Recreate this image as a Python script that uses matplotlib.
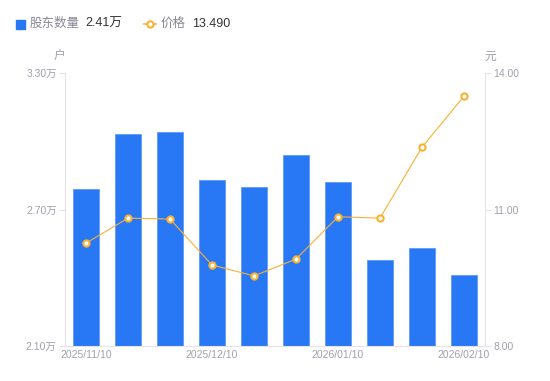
import matplotlib
matplotlib.use("Agg")
import matplotlib.pyplot as plt
from matplotlib.lines import Line2D

plt.rcParams['font.family'] = ['Liberation Sans', 'Noto Sans CJK SC', 'DejaVu Sans']

dates = ["2025/11/10", "2025/11/20", "2025/11/30", "2025/12/10", "2025/12/20",
         "2025/12/31", "2026/01/10", "2026/01/20", "2026/01/31", "2026/02/10"]
holders = [2.79, 3.03, 3.04, 2.83, 2.80, 2.94, 2.82, 2.48, 2.53, 2.41]  # 万户
price = [10.26, 10.81, 10.79, 9.78, 9.54, 9.91, 10.84, 10.81, 12.37, 13.49]
left_ticks = [2.10, 2.70, 3.30]
right_ticks = [8.00, 11.00, 14.00]
shown_dates = ["2025/11/10", "2025/12/10", "2026/01/10", "2026/02/10"]

BLUE = "#2878f5"
ORANGE = "#f8b133"
GREY = "#a0a0ad"
AXIS = "#e3e3e8"

fig = plt.figure(figsize=(5.5, 3.81), dpi=100)
ax = fig.add_axes([65/550, 35/381, 420/550, 273/381])
x = list(range(len(dates)))
ax.bar(x, holders, width=0.6, color=BLUE, edgecolor="#5b9bf7", linewidth=0.6, zorder=2)
ax.set_xlim(-0.5, len(dates) - 0.5)
ax.set_ylim(left_ticks[0], left_ticks[-1])
ax.set_yticks(left_ticks)
ax.set_yticklabels([f"{v:.2f}万" for v in left_ticks])

tick_pos = [dates.index(d) for d in shown_dates]
ax.set_xticks(tick_pos)
ax.set_xticklabels(shown_dates)

ax2 = ax.twinx()
ax2.plot(x, price, color=ORANGE, linewidth=0.8, marker='o', markersize=4.5,
         markerfacecolor='white', markeredgecolor=ORANGE, markeredgewidth=1.5, zorder=3)
ax2.set_ylim(right_ticks[0], right_ticks[-1])
ax2.set_yticks(right_ticks)
ax2.set_yticklabels([f"{v:.2f}" for v in right_ticks])

for a in (ax, ax2):
    for s in a.spines.values():
        s.set_visible(False)
    a.tick_params(colors=GREY, labelsize=7.5, length=4, width=0.8, color=AXIS, pad=2)
ax.spines['left'].set_visible(True)
ax.spines['left'].set_color(AXIS)
ax.spines['bottom'].set_visible(True)
ax.spines['bottom'].set_color(AXIS)
ax2.spines['right'].set_visible(True)
ax2.spines['right'].set_color(AXIS)
ax.tick_params(axis='x', length=0, pad=3)

fig.text(60/550, 1 - 57/381, "户", color=GREY, fontsize=8.5, ha='center', va='center')
fig.text(490/550, 1 - 57/381, "元", color=GREY, fontsize=8.5, ha='center', va='center')

# Legend
ly = 1 - 24/381
fig.patches.append(plt.Rectangle((16/550, ly - 4.5/381), 9/550, 9/381, transform=fig.transFigure,
                                 color=BLUE, figure=fig))
fig.text(30/550, ly, "股东数量", color="#888894", fontsize=9, va='center')
fig.text(85/550, ly, f"{holders[-1]:.2f}万", color="#333333", fontsize=9, va='center')
fig.lines.append(Line2D([144/550, 156/550], [ly, ly], transform=fig.transFigure, color=ORANGE,
                        linewidth=1.2))
fig.lines.append(Line2D([150/550], [ly], transform=fig.transFigure, marker='o', markersize=4.5,
                        markerfacecolor='white', markeredgecolor=ORANGE, markeredgewidth=1.5,
                        linestyle='none'))
fig.text(161/550, ly, "价格", color="#888894", fontsize=9, va='center')
fig.text(192/550, ly, f"{price[-1]:.3f}", color="#333333", fontsize=9, va='center')

fig.savefig("out.png", dpi=100)
